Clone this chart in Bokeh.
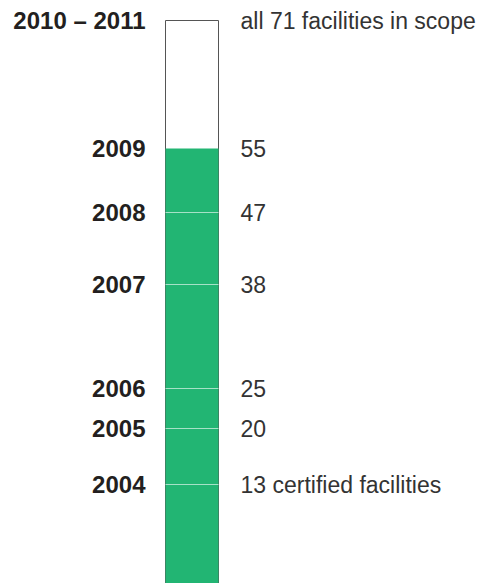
from bokeh.plotting import figure
from bokeh.models import Range1d
from bokeh.core.properties import value
from bokeh.embed import file_html
from bokeh.resources import INLINE

years = ["2004", "2005", "2006", "2007", "2008", "2009"]
counts = [13, 20, 25, 38, 47, 55]
value_labels = ["13 certified facilities", "20", "25", "38", "47", "55"]
scope_year = "2010 – 2011"
scope_total = 71
scope_label = "all 71 facilities in scope"

W, H = 480, 583
p = figure(width=W, height=H, output_backend="svg", toolbar_location=None,
           x_range=Range1d(0, W), y_range=Range1d(0.625, 73.5),
           min_border=0, outline_line_color=None)
p.axis.visible = False
p.grid.visible = False
p.background_fill_color = "white"
p.border_fill_color = "white"

bar_l, bar_r = 165, 218
green = "#22b573"

# scope box (white)
p.quad(left=[bar_l], right=[bar_r], bottom=[-5], top=[scope_total],
       fill_color="white", line_color="#555555", line_width=1)
# certified fill up to latest year
p.quad(left=[bar_l], right=[bar_r], bottom=[-5], top=[max(counts)],
       fill_color=green, line_color=None)
# separator lines
sep = counts[:-1]
p.segment(x0=[bar_l] * len(sep), x1=[bar_r] * len(sep), y0=sep, y1=sep,
          line_color="white", line_alpha=0.6, line_width=1)

all_years = years + [scope_year]
all_vals = counts + [scope_total]
all_labels = value_labels + [scope_label]

p.text(x=[145] * len(all_years), y=all_vals, text=all_years,
       text_font=value("Liberation Sans"), text_font_style="bold",
       text_font_size="24px", text_color="#231f20",
       text_align="right", text_baseline="middle")
p.text(x=[240] * len(all_labels), y=all_vals, text=all_labels,
       text_font=value("Liberation Sans"), text_font_size="23px",
       text_color="#333333", text_align="left", text_baseline="middle")

open("out.html", "w").write(file_html(p, INLINE))
